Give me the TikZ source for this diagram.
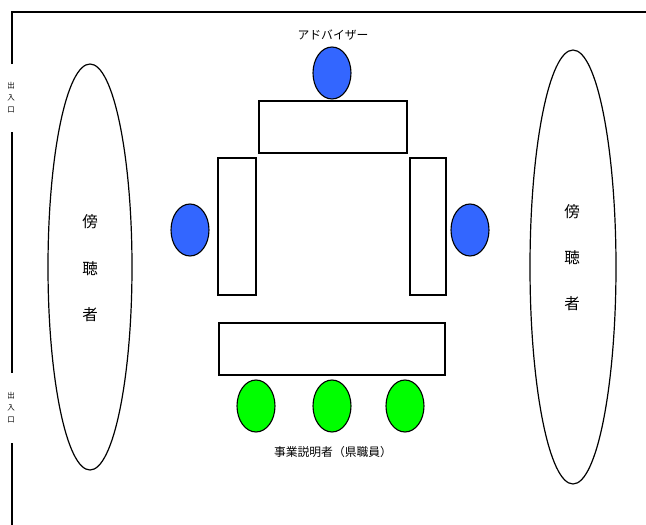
\documentclass[tikz,border=0pt]{standalone}
\usepackage{fontspec}
\newfontfamily\jp{Noto Sans CJK JP}
\usetikzlibrary{shapes.geometric}
\definecolor{seatblue}{RGB}{51,102,255}
\definecolor{seatgreen}{RGB}{0,255,0}
\tikzset{
  seat/.style={ellipse,draw,line width=1.1pt,minimum width=38pt,minimum height=52pt,inner sep=0pt},
  desk/.style={draw,line width=1.2pt},
  wall/.style={draw,line width=1.2pt},
  door/.style={font=\jp\fontsize{7.5}{12}\selectfont,align=center},
  label/.style={font=\jp\fontsize{11.8}{14}\selectfont},
  audience/.style={font=\jp\fontsize{15.5}{17}\selectfont}
}
\begin{document}
\begin{tikzpicture}[x=1pt,y=-1pt]
        \useasboundingbox (0,0) rectangle (646,525);
        % walls and entrances
        \draw[wall] (12,64) -- (12,12) -- (646,12);
        \draw[wall] (12,132) -- (12,373);
        \draw[wall] (12,443) -- (12,525);
        \node[door] (doorA) at (11,98) {出\\入\\口};
        \node[door] (doorB) at (11,408) {出\\入\\口};
        % audience
        \draw[line width=1.2pt] (90,267) ellipse [x radius=42pt, y radius=203pt];
        \draw[line width=1.2pt] (573,267) ellipse [x radius=43pt, y radius=217pt];
        \node[audience] (audL1) at (90,222) {傍};
        \node[audience] (audL2) at (90,269) {聴};
        \node[audience] (audL3) at (90,315) {者};
        \node[audience] (audR1) at (572,212) {傍};
        \node[audience] (audR2) at (572,258) {聴};
        \node[audience] (audR3) at (572,304) {者};
        % desks
        \draw[desk] (259,101) rectangle (407,153);
        \draw[desk] (218,158) rectangle (256,295);
        \draw[desk] (410,158) rectangle (446,295);
        \draw[desk] (219,323) rectangle (445,375);
        % seats
        \node[seat,fill=seatblue] (adv) at (332,73) {};
        \node[seat,fill=seatblue] (advL) at (190,230) {};
        \node[seat,fill=seatblue] (advR) at (470,230) {};
        \node[label] (advlabel) at (333,35) {アドバイザー};
        \node[seat,fill=seatgreen] (stA) at (256,406) {};
        \node[seat,fill=seatgreen] (stB) at (332,406) {};
        \node[seat,fill=seatgreen] (stC) at (405,406) {};
        \node[label] (stlabel) at (333,452) {事業説明者（県職員）};
        \end{tikzpicture}
\end{document}
